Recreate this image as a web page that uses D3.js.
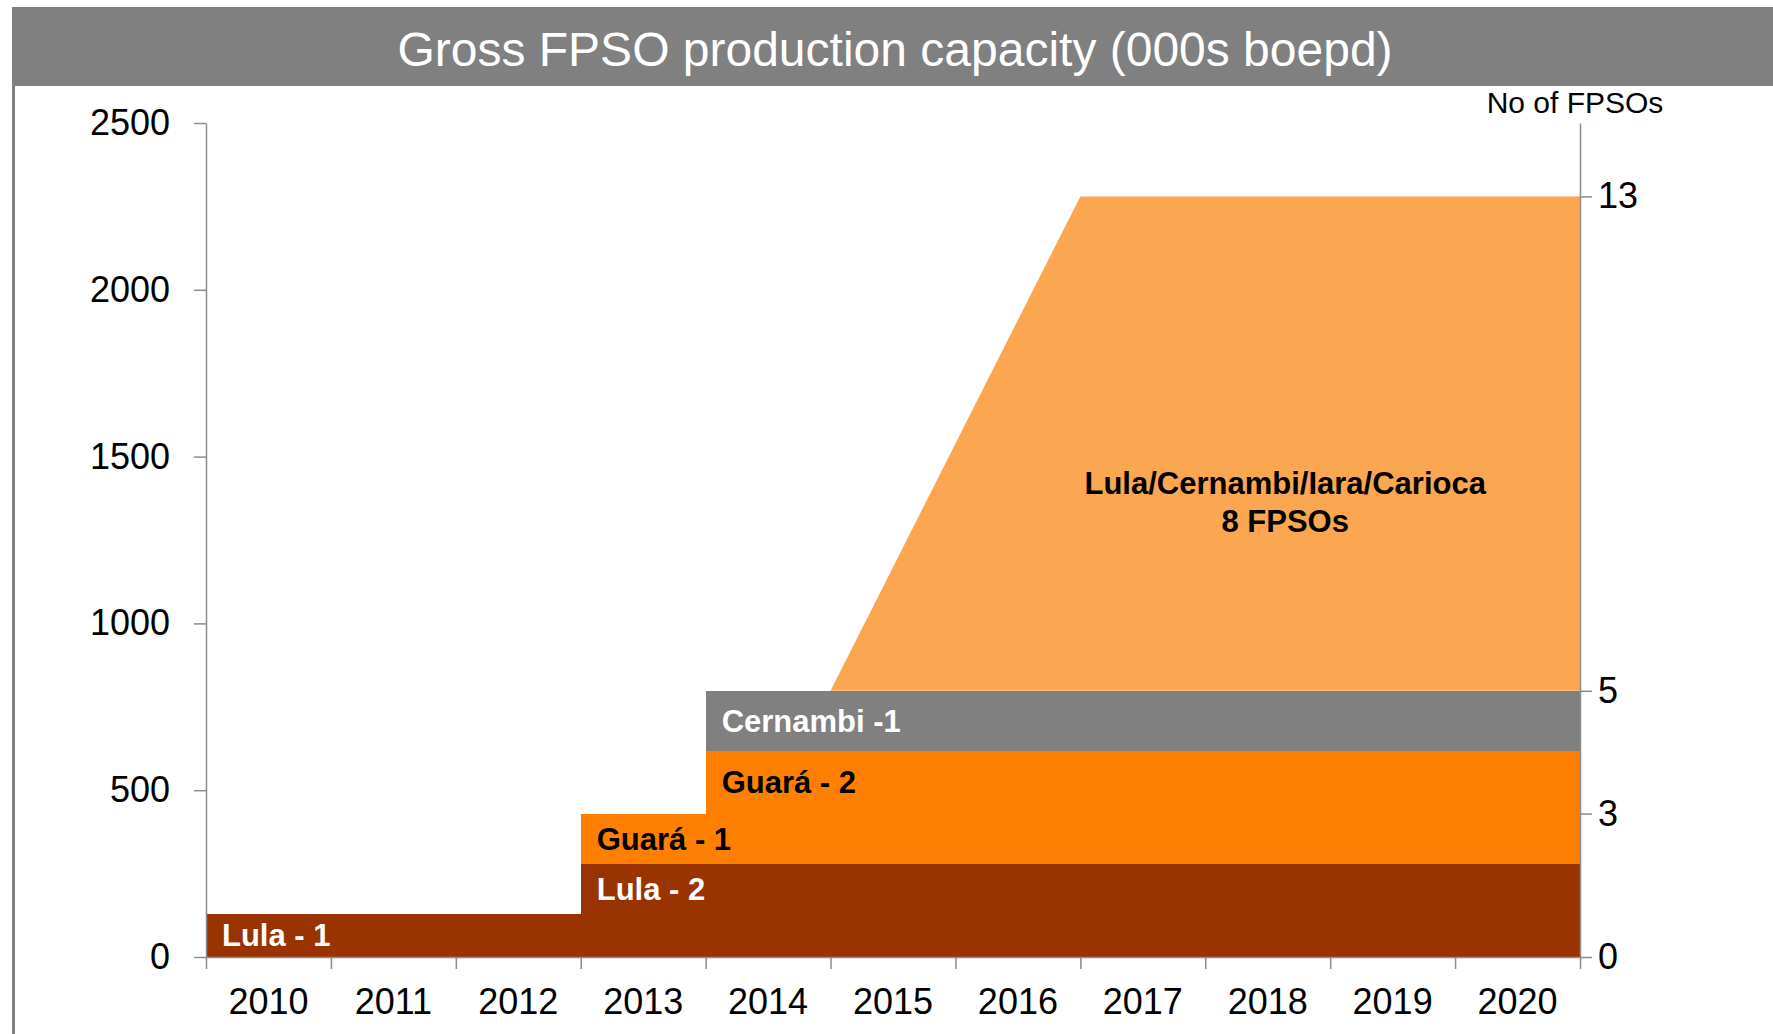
<!DOCTYPE html>
<html>
<head>
<meta charset="utf-8">
<script src="https://cdn.jsdelivr.net/npm/d3@7/dist/d3.min.js"></script>
<style>
body { margin: 0; background: #fff; }
svg text { font-family: "Liberation Sans", Arial, Helvetica, sans-serif; }
</style>
</head>
<body>
<svg id="chart" width="1773" height="1034"></svg>
<script>
/*********************
	Data
**********************/
var years = [2010, 2011, 2012, 2013, 2014, 2015, 2016, 2017, 2018, 2019, 2020];
var capacity_ticks = [0, 500, 1000, 1500, 2000, 2500];
var fpso_ticks = [0, 3, 5, 13];

// gross capacity per year, 000s boepd
var lula1     = [130, 130, 130, 130, 130, 130, 130, 130, 130, 130, 130];
var lula2     = [0, 0, 0, 150, 150, 150, 150, 150, 150, 150, 150];
var guara1    = [0, 0, 0, 150, 150, 150, 150, 150, 150, 150, 150];
var guara2    = [0, 0, 0, 0, 188, 188, 188, 188, 188, 188, 188];
var cernambi1 = [0, 0, 0, 0, 180, 180, 180, 180, 180, 180, 180];

var series_names  = ["Lula - 1", "Lula - 2", "Guará - 1", "Guará - 2", "Cernambi -1"];
var series_fpsos  = [1, 1, 1, 1, 1];
var series_colors = ["#993300", "#993300", "#ff8000", "#ff8000", "#808080"];
var label_colors  = ["#ffffff", "#ffffff", "#000000", "#000000", "#ffffff"];

// the 8 FPSO build-out, ramping between year boundaries
var ramp_years  = [2015, 2017, 2021];
var ramp_values = [0, 1482, 1482];
var ramp_fpsos  = 8;
var ramp_label  = ["Lula/Cernambi/Iara/Carioca", "8 FPSOs"];
var ramp_color  = "#fba650";

/*********************
	Setup
**********************/
var svg = d3.select("#chart");
var left = 206, right = 1580, top_y = 123, bottom = 957;

var x = d3.scaleLinear().domain([2010, 2021]).range([left, right]);
var y = d3.scaleLinear().domain([0, 2500]).range([bottom, top_y]);

// title bar and left frame line
svg.append("rect").attr("x", 12).attr("y", 7).attr("width", 1761).attr("height", 79).attr("fill", "#808080");
svg.append("rect").attr("x", 12).attr("y", 86).attr("width", 3).attr("height", 948).attr("fill", "#808080");
svg.append("text")
	.attr("x", 895).attr("y", 66)
	.attr("text-anchor", "middle")
	.attr("fill", "#ffffff")
	.style("font-size", "48px")
	.text("Gross FPSO production capacity (000s boepd)");

/*********************
	Stacked steps
**********************/
var keys = ["s0", "s1", "s2", "s3", "s4"];
var all_series = [lula1, lula2, guara1, guara2, cernambi1];
var rows = years.map(function(yr, i) {
	var r = {year: yr};
	keys.forEach(function(k, j) { r[k] = all_series[j][i]; });
	return r;
});
var stacked = d3.stack().keys(keys)(rows);

var step_area = d3.area()
	.x(function(d) { return x(d.year); })
	.y0(function(d) { return y(d.y0); })
	.y1(function(d) { return y(d.y1); })
	.curve(d3.curveStepAfter);

stacked.forEach(function(layer, j) {
	var pts = layer.map(function(d) { return {year: d.data.year, y0: d[0], y1: d[1]}; });
	var last = pts[pts.length - 1];
	pts.push({year: last.year + 1, y0: last.y0, y1: last.y1});
	svg.append("path")
		.attr("d", step_area(pts))
		.attr("fill", series_colors[j])
		.attr("shape-rendering", "crispEdges");
});

// ramp sits on top of the stack total
function stackTotal(yr) {
	var idx = Math.min(yr - years[0], years.length - 1);
	return stacked[stacked.length - 1][idx][1];
}
var ramp_pts = ramp_years.map(function(yr, i) {
	var base = stackTotal(yr);
	return {year: yr, y0: base, y1: base + ramp_values[i]};
});
var ramp_area = d3.area()
	.x(function(d) { return x(d.year); })
	.y0(function(d) { return y(d.y0); })
	.y1(function(d) { return y(d.y1); });
svg.append("path").attr("d", ramp_area(ramp_pts)).attr("fill", ramp_color);

/*********************
	Axes
**********************/
function styleAxis(g) {
	g.selectAll("path.domain").attr("stroke", "#8c8c8c").attr("stroke-width", 1.5);
	g.selectAll(".tick line").attr("stroke", "#8c8c8c").attr("stroke-width", 1.5);
	g.selectAll("text").attr("fill", "#000").style("font-size", "36px")
		.style("font-family", "'Liberation Sans', Arial, sans-serif");
}

var yAxis = svg.append("g")
	.attr("transform", "translate(" + left + ",0)")
	.call(d3.axisLeft(y).tickValues(capacity_ticks).tickFormat(d3.format("d"))
		.tickSize(12).tickSizeOuter(0).tickPadding(24));
styleAxis(yAxis);

// right axis: cumulative FPSO count placed at the cumulative capacity
var cum_count = [0], cum_cap = [0];
stacked.forEach(function(layer, j) {
	cum_count.push(cum_count[cum_count.length - 1] + series_fpsos[j]);
	cum_cap.push(layer[layer.length - 1][1]);
});
cum_count.push(cum_count[cum_count.length - 1] + ramp_fpsos);
cum_cap.push(ramp_pts[ramp_pts.length - 1].y1);

var right_vals = fpso_ticks.map(function(n) { return cum_cap[cum_count.indexOf(n)]; });
var rAxis = svg.append("g")
	.attr("transform", "translate(" + right + ",0)")
	.call(d3.axisRight(y).tickValues(right_vals).tickSize(12).tickSizeOuter(0).tickPadding(6)
		.tickFormat(function(v) { return fpso_ticks[right_vals.indexOf(v)]; }));
styleAxis(rAxis);

svg.append("text")
	.attr("x", 1575).attr("y", 113)
	.attr("text-anchor", "middle")
	.style("font-size", "30px")
	.text("No of FPSOs");

// x axis: ticks at year boundaries, labels centred in each year
var xAxis = svg.append("g")
	.attr("transform", "translate(0," + bottom + ")")
	.call(d3.axisBottom(x).tickValues(d3.range(2010, 2022)).tickSize(12).tickSizeOuter(0).tickFormat(""));
styleAxis(xAxis);

svg.append("g").selectAll("text")
	.data(years)
	.join("text")
	.attr("x", function(d) { return x(d + 0.5); })
	.attr("y", 1014)
	.attr("text-anchor", "middle")
	.style("font-size", "36px")
	.text(function(d) { return d; });

/*********************
	Labels
**********************/
stacked.forEach(function(layer, j) {
	var idx = layer.findIndex(function(d) { return d[1] - d[0] > 0; });
	var d = layer[idx];
	svg.append("text")
		.attr("x", x(d.data.year) + 16)
		.attr("y", y((d[0] + d[1]) / 2))
		.attr("dy", "0.36em")
		.attr("fill", label_colors[j])
		.style("font-size", "31px")
		.style("font-weight", "bold")
		.text(series_names[j]);
});

svg.append("text")
	.attr("x", x(2018.64))
	.attr("y", y(1388))
	.attr("text-anchor", "middle")
	.style("font-size", "31px")
	.style("font-weight", "bold")
	.selectAll("tspan")
	.data(ramp_label)
	.join("tspan")
	.attr("x", x(2018.64))
	.attr("dy", function(d, i) { return i === 0 ? 0 : 38; })
	.text(function(d) { return d; });
</script>
</body>
</html>
